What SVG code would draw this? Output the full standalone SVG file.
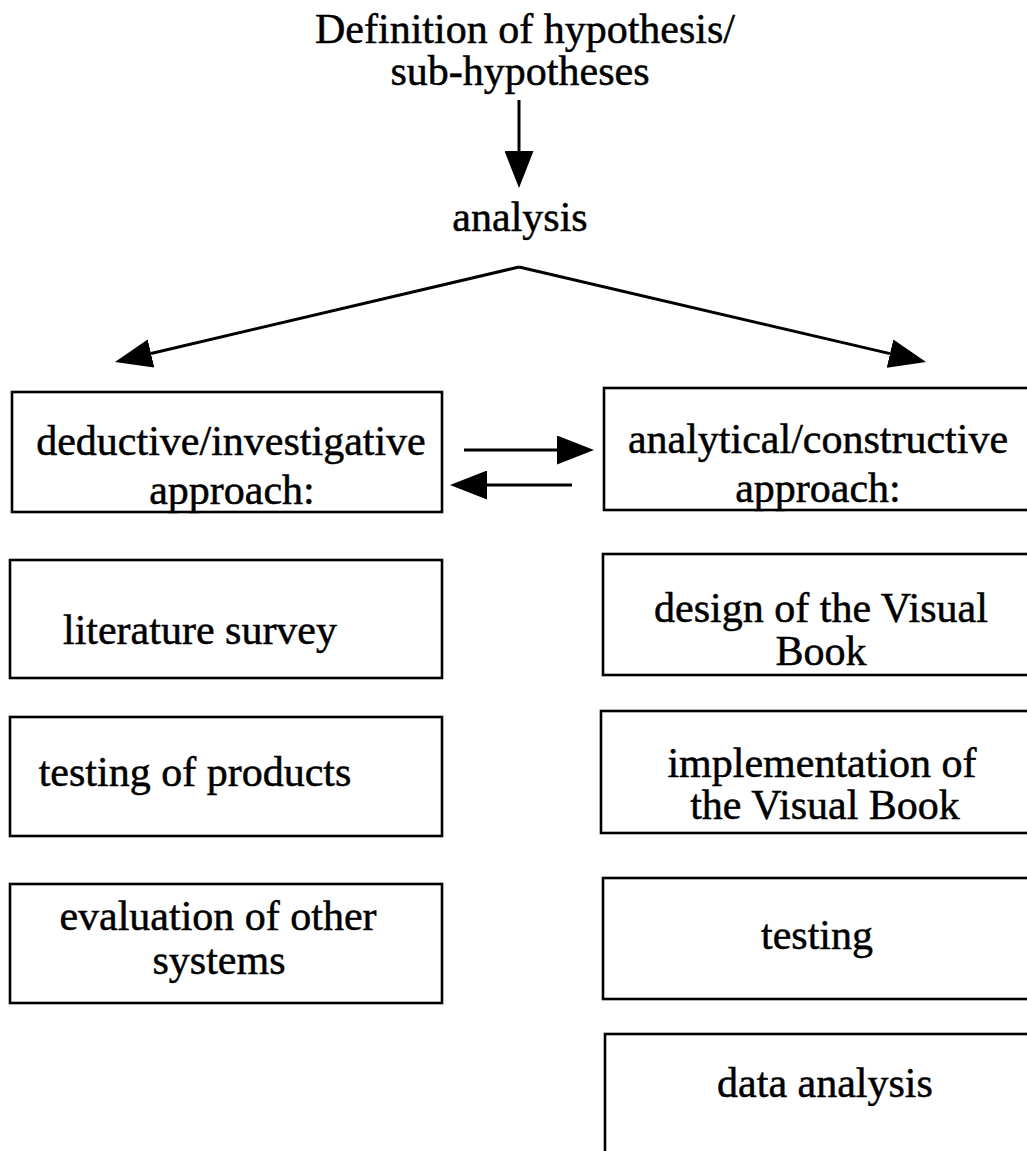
<svg xmlns="http://www.w3.org/2000/svg" width="1027" height="1151" viewBox="0 0 1027 1151">
<defs>
<style>
.t{font-family:"Liberation Serif","Times New Roman",serif;font-size:42px;fill:#000;stroke:#000;stroke-width:0.5;text-anchor:middle}
.b{fill:#fff;stroke:#000;stroke-width:2.6}
.c{stroke:#000;stroke-width:3;fill:none}
</style>
<marker id="ah" viewBox="0 0 37 29" refX="0" refY="14.5" markerWidth="37" markerHeight="29" markerUnits="userSpaceOnUse" orient="auto">
<path d="M0,0 L37,14.5 L0,29 z" fill="#000"/>
</marker>
</defs>
<rect width="1027" height="1151" fill="#fff"/>
<g id="hypothesis">
<text class="t" x="525" y="43">Definition of hypothesis/</text>
<text class="t" x="520" y="85">sub-hypotheses</text>
</g>
<g id="analysis">
<text class="t" x="520" y="231">analysis</text>
</g>
<g id="deductive">
<rect class="b" x="12" y="392" width="430" height="120"/>
<text class="t" x="231" y="455">deductive/investigative</text>
<text class="t" x="232" y="504">approach:</text>
</g>
<g id="analytical">
<rect class="b" x="604" y="388" width="440" height="122"/>
<text class="t" x="818" y="453">analytical/constructive</text>
<text class="t" x="818" y="502">approach:</text>
</g>
<g id="literature">
<rect class="b" x="10" y="560" width="432" height="118"/>
<text class="t" x="200" y="644">literature survey</text>
</g>
<g id="testing-products">
<rect class="b" x="10" y="717" width="432" height="119"/>
<text class="t" x="195" y="786">testing of products</text>
</g>
<g id="evaluation">
<rect class="b" x="10" y="884" width="432" height="119"/>
<text class="t" x="218" y="930">evaluation of other</text>
<text class="t" x="219" y="974">systems</text>
</g>
<g id="design">
<rect class="b" x="603" y="554" width="440" height="121"/>
<text class="t" x="821" y="622">design of the Visual</text>
<text class="t" x="821" y="665">Book</text>
</g>
<g id="implementation">
<rect class="b" x="601" y="711" width="440" height="122"/>
<text class="t" x="822" y="777">implementation of</text>
<text class="t" x="825" y="819">the Visual Book</text>
</g>
<g id="testing">
<rect class="b" x="603" y="878" width="440" height="121"/>
<text class="t" x="817" y="949">testing</text>
</g>
<g id="data-analysis">
<rect class="b" x="605" y="1034" width="440" height="140"/>
<text class="t" x="825" y="1097">data analysis</text>
</g>
<g id="connectors">
<line class="c" x1="519" y1="100" x2="519" y2="151" marker-end="url(#ah)"/>
<line class="c" x1="519" y1="267" x2="151" y2="353.5" marker-end="url(#ah)"/>
<line class="c" x1="519" y1="267" x2="890" y2="353.6" marker-end="url(#ah)"/>
<line class="c" x1="464" y1="450" x2="557" y2="450" marker-end="url(#ah)"/>
<line class="c" x1="572" y1="485" x2="487" y2="485" marker-end="url(#ah)"/>
</g>
</svg>
